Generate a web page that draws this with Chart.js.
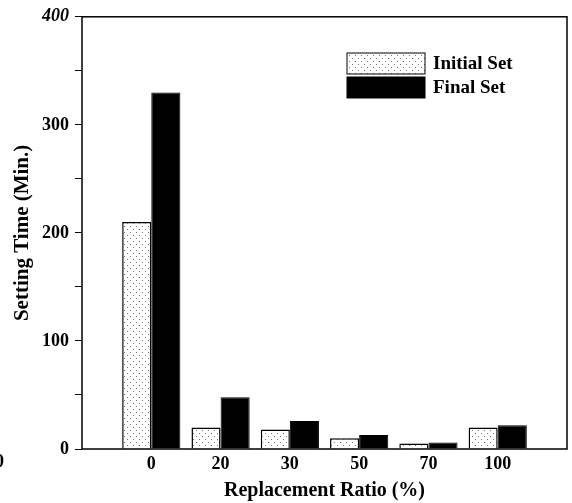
<!DOCTYPE html>
<html>
<head>
<meta charset="utf-8">
<script src="https://cdn.jsdelivr.net/npm/chart.js@4"></script>
<style>
  html, body { margin: 0; padding: 0; background: #fff; }
  #wrap { width: 572px; height: 503px; position: relative; }
</style>
</head>
<body>
<div id="wrap"><canvas id="chart"></canvas></div>
<script>
var categories = ['0', '20', '30', '50', '70', '100'];
var initialSet = [210, 20, 18, 10, 5, 20];
var finalSet = [330, 48, 26, 13, 6, 22];
var yTicks = [0, 100, 200, 300, 400];

var serif = '"Liberation Serif", "DejaVu Serif", serif';

// dotted fill like the scanned pattern
function dotPattern() {
  var c = document.createElement('canvas');
  c.width = 6; c.height = 6;
  var g = c.getContext('2d');
  g.fillStyle = '#fff';
  g.fillRect(0, 0, 6, 6);
  g.fillStyle = '#777';
  g.fillRect(1, 1, 1, 1);
  g.fillRect(4, 4, 1, 1);
  return g.createPattern(c, 'repeat');
}
var dots = dotPattern();

function points(vals) {
  return vals.map(function(v, i) { return { x: i, y: v }; });
}

var framePlugin = {
  id: 'frame',
  afterDraw: function(chart) {
    var a = chart.chartArea, ctx = chart.ctx;
    ctx.save();
    ctx.strokeStyle = '#000';
    ctx.lineWidth = 1.5;
    ctx.strokeRect(a.left, a.top, a.right - a.left, a.bottom - a.top);

    // legend inside plot
    var items = [
      { label: 'Initial Set', fill: dots },
      { label: 'Final Set', fill: '#000' }
    ];
    var x = 347, y = 53;
    ctx.font = 'bold 19px ' + serif;
    ctx.textBaseline = 'middle';
    items.forEach(function(it, i) {
      var top = y + i * 24;
      ctx.fillStyle = it.fill;
      ctx.fillRect(x, top, 78, 21);
      ctx.lineWidth = 1;
      ctx.strokeStyle = '#000';
      ctx.strokeRect(x, top, 78, 21);
      ctx.fillStyle = '#000';
      ctx.fillText(it.label, x + 86, top + 11);
    });

    // stray clipped label at the far left edge of the scan
    ctx.font = 'bold 18px ' + serif;
    ctx.fillText('0', -5, 462);
    ctx.restore();
  }
};

var ctx = document.getElementById('chart').getContext('2d');
var chart = new Chart(ctx, {
  type: 'bar',
  data: {
    datasets: [{
      label: 'Initial Set',
      data: points(initialSet),
      backgroundColor: dots,
      borderColor: '#000',
      borderWidth: 1.5,
      categoryPercentage: 0.84,
      barPercentage: 1.0
    }, {
      label: 'Final Set',
      data: points(finalSet),
      backgroundColor: '#000',
      borderColor: '#000',
      borderWidth: 1,
      categoryPercentage: 0.84,
      barPercentage: 1.0
    }]
  },
  options: {
    responsive: true,
    maintainAspectRatio: false,
    animation: false,
    layout: { padding: { left: 0, right: 5, top: 14, bottom: 0 } },
    plugins: {
      legend: { display: false },
      tooltip: { enabled: false }
    },
    scales: {
      x: {
        type: 'linear',
        min: -1,
        max: 6,
        offset: false,
        grid: { display: false, drawTicks: false },
        border: { display: false },
        afterBuildTicks: function(scale) {
          scale.ticks = categories.map(function(c, i) { return { value: i }; });
        },
        afterFit: function(scale) { scale.height = 54; },
        ticks: {
          color: '#000',
          padding: 5,
          maxRotation: 0,
          font: { family: serif, size: 18, weight: 'bold' },
          callback: function(v) { return categories[v]; }
        },
        title: {
          display: true,
          text: 'Replacement Ratio (%)',
          color: '#000',
          padding: { top: 0, bottom: 0 },
          font: { family: serif, size: 20, weight: 'bold' }
        }
      },
      y: {
        min: 0,
        max: 400,
        afterBuildTicks: function(scale) {
          var t = [];
          for (var v = 0; v <= 400; v += 50) t.push({ value: v });
          scale.ticks = t;
        },
        afterFit: function(scale) { scale.width = 82; },
        grid: { drawOnChartArea: false, tickLength: 7, color: '#000', tickColor: '#000' },
        border: { display: false },
        ticks: {
          color: '#000',
          padding: 6,
          font: function(c) {
            var italic = c.tick && c.tick.value === 400;
            return { family: serif, size: 18, weight: 'bold', style: italic ? 'italic' : 'normal' };
          },
          callback: function(v) { return yTicks.indexOf(v) >= 0 ? String(v) : ''; }
        },
        title: {
          display: true,
          text: 'Setting Time (Min.)',
          color: '#000',
          padding: { top: 10, bottom: 0 },
          font: { family: serif, size: 21, weight: 'bold' }
        }
      }
    }
  },
  plugins: [framePlugin]
});
</script>
</body>
</html>
